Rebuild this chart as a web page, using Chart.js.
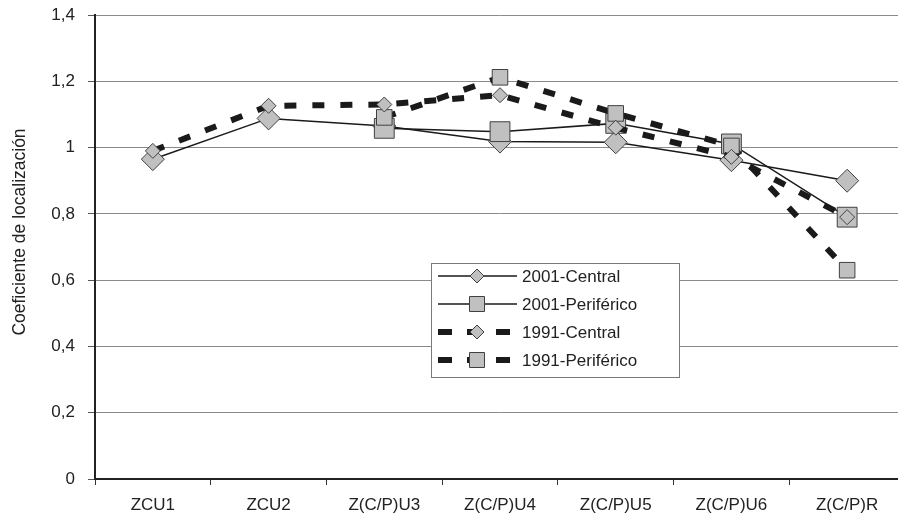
<!DOCTYPE html>
<html><head><meta charset="utf-8">
<script src="https://cdn.jsdelivr.net/npm/chart.js@4.4.1/dist/chart.umd.min.js"></script>
<style>
html,body{margin:0;padding:0;background:#fff;overflow:hidden;width:898px;height:517px}
#wrap{width:920px;height:517px}
</style></head>
<body><div id="wrap"><canvas id="c" width="920" height="517"></canvas></div>
<script>
const categories = ['ZCU1','ZCU2','Z(C/P)U3','Z(C/P)U4','Z(C/P)U5','Z(C/P)U6','Z(C/P)R'];
const central2001 = [0.965, 1.088, 1.065, 1.018, 1.016, 0.962, 0.90];
const periferico2001 = [null, null, 1.058, 1.048, 1.073, 1.011, 0.79];
const central1991 = [0.99, 1.126, 1.13, 1.158, 1.06, 0.972, 0.79];
const periferico1991 = [null, null, 1.091, 1.212, 1.103, 1.005, 0.63];
const yTicks = [0, 0.2, 0.4, 0.6, 0.8, 1, 1.2, 1.4];
const seriesNames = ['2001-Central', '2001-Periférico', '1991-Central', '1991-Periférico'];
const yTitle = 'Coeficiente de localización';

const FONT = "'Liberation Sans', Arial, sans-serif";
const TEXT = '#222';
const MFILL = '#c0c0c0';
const MSTROKE = '#404040';
const DASH = [12, 16];

Chart.defaults.font.family = FONT;
Chart.defaults.font.size = 17;
Chart.defaults.color = TEXT;

const datasets = [
  {label: seriesNames[0], data: central2001, order: 3, borderColor: '#1a1a1a', borderWidth: 1.5,
   pointStyle: 'rectRot', pointRadius: 11.5, pointBackgroundColor: MFILL, pointBorderColor: MSTROKE, pointBorderWidth: 1},
  {label: seriesNames[1], data: periferico2001, order: 2, borderColor: '#1a1a1a', borderWidth: 1.5,
   pointStyle: 'rect', pointRadius: 14, pointBackgroundColor: MFILL, pointBorderColor: MSTROKE, pointBorderWidth: 1},
  {label: seriesNames[2], data: central1991, order: 0, borderColor: '#1a1a1a', borderWidth: 6, borderDash: DASH,
   pointStyle: 'rectRot', pointRadius: 7.5, pointBackgroundColor: MFILL, pointBorderColor: MSTROKE, pointBorderWidth: 1},
  {label: seriesNames[3], data: periferico1991, order: 1, borderColor: '#1a1a1a', borderWidth: 6, borderDash: DASH,
   pointStyle: 'rect', pointRadius: 11, pointBackgroundColor: MFILL, pointBorderColor: MSTROKE, pointBorderWidth: 1}
];

const boxLegend = {
  id: 'boxLegend',
  afterDraw(chart) {
    const ctx = chart.ctx;
    const x0 = 431, y0 = 263, w = 248, h = 114;
    ctx.save();
    ctx.fillStyle = '#fff';
    ctx.fillRect(x0, y0, w, h);
    ctx.strokeStyle = '#7a7a7a';
    ctx.lineWidth = 1;
    ctx.strokeRect(x0 + 0.5, y0 + 0.5, w, h);
    const rows = [276, 304, 332, 360];
    chart.data.datasets.forEach((ds, i) => {
      const y = rows[i];
      const lx0 = 438, lx1 = 517, mx = 477;
      ctx.beginPath();
      ctx.strokeStyle = ds.borderColor;
      ctx.lineWidth = ds.borderWidth;
      ctx.setLineDash(ds.borderDash ? [14, 15] : []);
      ctx.lineCap = 'butt';
      ctx.moveTo(lx0, y); ctx.lineTo(lx1, y);
      ctx.stroke();
      ctx.setLineDash([]);
      ctx.fillStyle = MFILL;
      ctx.strokeStyle = MSTROKE;
      ctx.lineWidth = 1;
      ctx.beginPath();
      if (ds.pointStyle === 'rect') {
        ctx.rect(mx - 7.5, y - 7.5, 15, 15);
      } else {
        ctx.moveTo(mx, y - 7); ctx.lineTo(mx + 7, y); ctx.lineTo(mx, y + 7); ctx.lineTo(mx - 7, y); ctx.closePath();
      }
      ctx.fill(); ctx.stroke();
      ctx.fillStyle = TEXT;
      ctx.font = '17px ' + FONT;
      ctx.textBaseline = 'middle';
      ctx.textAlign = 'left';
      ctx.fillText(ds.label, 522, y + 1);
    });
    // y-axis title
    ctx.translate(20, 232);
    ctx.rotate(-Math.PI / 2);
    ctx.textAlign = 'center';
    ctx.textBaseline = 'middle';
    ctx.font = '17.5px ' + FONT;
    ctx.fillStyle = TEXT;
    ctx.fillText(yTitle, 0, 0);
    ctx.restore();
  }
};

new Chart(document.getElementById('c'), {
  type: 'line',
  data: {labels: categories, datasets},
  options: {
    responsive: false,
    devicePixelRatio: 1,
    animation: false,
    layout: {padding: {left: 0, top: 15, right: 11, bottom: 0}},
    plugins: {legend: {display: false}, tooltip: {enabled: false}},
    elements: {line: {tension: 0, fill: false}},
    scales: {
      x: {
        offset: true,
        grid: {offset: true, drawOnChartArea: false, drawTicks: true, tickLength: 6, color: '#333', lineWidth: 1},
        border: {display: true, color: '#222', width: 2},
        ticks: {padding: 10, color: TEXT, font: {size: 17}, maxRotation: 0, autoSkip: false},
        afterFit(s) { s.height = 38; s.paddingLeft = 0; s.paddingRight = 0; }
      },
      y: {
        min: 0, max: 1.4,
        afterBuildTicks(s) { s.ticks = yTicks.map(v => ({value: v})); },
        grid: {color: '#8a8a8a', lineWidth: 1, tickLength: 7, tickColor: '#555'},
        border: {display: true, color: '#222', width: 2},
        ticks: {padding: 13, color: TEXT, font: {size: 17},
          callback: v => String(Math.round(v * 10) / 10).replace('.', ',')},
        afterFit(s) { s.width = 95; s.paddingTop = 0; s.paddingBottom = 0; }
      }
    }
  },
  plugins: [boxLegend]
});
</script>
</body></html>
